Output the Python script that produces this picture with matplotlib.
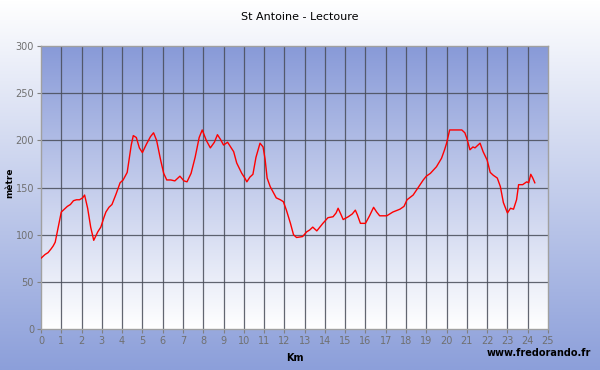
import matplotlib
matplotlib.use("Agg")
import matplotlib.pyplot as plt
import numpy as np

# profil altimétrique
km = [0.0, 0.2, 0.35, 0.5, 0.6, 0.7, 0.85, 1.0, 1.15, 1.3, 1.45, 1.6, 1.75, 1.9, 2.05, 2.15,
      2.3, 2.45, 2.6, 2.8, 2.95, 3.1, 3.2, 3.35, 3.5, 3.7, 3.9, 4.05, 4.25, 4.45, 4.55,
      4.7, 4.85, 5.0, 5.2, 5.4, 5.55, 5.7, 5.9, 6.05, 6.2, 6.4, 6.6, 6.85, 7.05, 7.2,
      7.4, 7.6, 7.8, 7.95, 8.15, 8.35, 8.55, 8.7, 8.85, 9.0, 9.2, 9.35, 9.5, 9.65,
      9.9, 10.05, 10.15, 10.3, 10.45, 10.6, 10.8, 10.95, 11.05, 11.15, 11.3, 11.45,
      11.6, 11.8, 11.95, 12.1, 12.3, 12.45, 12.6, 12.9, 13.1, 13.25, 13.4, 13.6, 13.75,
      13.9, 14.15, 14.4, 14.55, 14.65, 14.8, 14.9, 15.15, 15.35, 15.5, 15.6, 15.75,
      16.0, 16.2, 16.4, 16.55, 16.7, 17.05, 17.35, 17.7, 17.9, 18.05, 18.35, 18.6,
      18.85, 19.0, 19.2, 19.5, 19.75, 19.9, 20.0, 20.15, 20.5, 20.75, 20.9, 21.0,
      21.15, 21.3, 21.4, 21.65, 21.8, 22.0, 22.15, 22.3, 22.5, 22.65, 22.8, 23.0,
      23.15, 23.3, 23.45, 23.55, 23.75, 23.95, 24.05, 24.15, 24.25, 24.35]
alt = [75, 79, 81, 85, 88, 92, 108, 124, 127, 130, 132, 136, 137, 137, 139, 142,
       128, 108, 94, 103, 108, 118, 124, 129, 132, 143, 155, 158, 166, 195, 205,
       203, 192, 187, 196, 204, 208, 200, 179, 165, 158, 158, 157, 162, 157, 156,
       165, 182, 203, 211, 200, 192, 198, 206, 201, 195, 198, 193, 188, 176,
       165, 160, 156, 161, 164, 182, 197, 193, 180, 160, 151, 145,
       139, 137, 135, 126, 112, 100, 97, 98, 103, 105, 108, 104, 108,
       112, 118, 119, 123, 128, 121, 116, 119, 122, 126, 121, 112,
       112, 120, 129, 124, 120, 120, 124, 127, 130, 137, 142, 150,
       158, 162, 165, 172, 181, 190, 197, 211, 211, 211, 208, 202,
       190, 193, 192, 197, 188, 179, 166, 163, 160, 151, 134, 123,
       128, 127, 137, 153, 153, 156, 155, 164, 160, 155]

x_ticks = np.arange(0, 26, 1)
y_ticks = np.arange(0, 301, 50)

fig = plt.figure(figsize=(6, 3.7), dpi=100)

# fond de la figure : dégradé blanc -> bleu
bg = fig.add_axes([0, 0, 1, 1], zorder=-10)
grad = np.linspace(0, 1, 256).reshape(-1, 1)
top_c = np.array([1.0, 1.0, 1.0])
bot_c = np.array([0x8c, 0x9f, 0xda]) / 255
img = top_c + (bot_c - top_c) * grad[..., None]
bg.imshow(img, aspect="auto", extent=[0, 1, 0, 1], origin="upper")
bg.axis("off")

ax = fig.add_axes([41 / 600, 41 / 370, 507 / 600, 283 / 370])
pa_top = np.array([0x88, 0x9a, 0xd8]) / 255
pa_bot = np.array([1.0, 1.0, 1.0])
img2 = pa_top + (pa_bot - pa_top) * grad[..., None]
ax.imshow(img2, aspect="auto", extent=[0, 25, 0, 300], origin="upper", zorder=0)

for xv in x_ticks[1:-1]:
    ax.axvline(xv, color="#484c58", lw=0.9, alpha=0.85, zorder=1)
for yv in y_ticks[1:-1]:
    ax.axhline(yv, color="#484c58", lw=0.9, alpha=0.85, zorder=1)

ax.plot(km, alt, color="red", lw=1.0, zorder=3)

ax.set_xlim(0, 25)
ax.set_ylim(0, 300)
ax.set_xticks(x_ticks)
ax.set_yticks(y_ticks)
ax.tick_params(colors="#808080", labelcolor="#707070", labelsize=7, length=3, width=0.8, pad=2)
for s in ax.spines.values():
    s.set_color("#a0a0a0")
    s.set_linewidth(1.0)

fig.text(0.5, 0.955, "St Antoine - Lectoure", ha="center", va="center", fontsize=8, color="black")
ax.set_xlabel("Km", fontsize=7, fontweight="bold", labelpad=5)
fig.text(10 / 600, 0.505, "mètre", rotation=90, ha="center", va="center",
         fontsize=6.5, fontweight="bold", color="black")
fig.text(0.985, 0.045, "www.fredorando.fr", ha="right", va="center", fontsize=7,
         fontweight="bold", color="black")

fig.savefig("out.png", dpi=100)
